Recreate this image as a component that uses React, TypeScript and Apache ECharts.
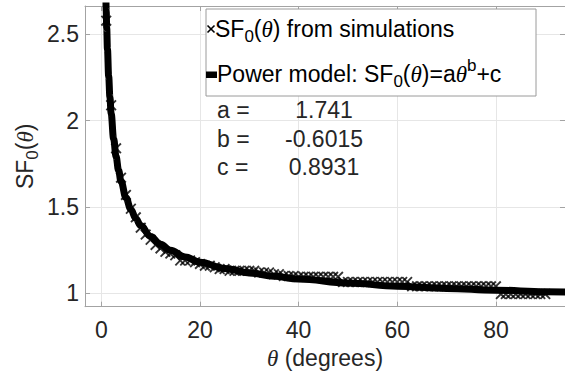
import React, { useEffect, useRef } from 'react';
import * as echarts from 'echarts';

// Simulation samples (angle in degrees, SF0 value)
const simX = [
  1, 2, 3, 4, 5, 6, 7, 8, 9, 10,
  11, 12, 13, 14, 15, 16, 17, 18, 19, 20,
  21, 22, 23, 24, 25, 26, 27, 28, 29, 30,
  31, 32, 33, 34, 35, 36, 37, 38, 39, 40,
  41, 42, 43, 44, 45, 46, 47, 48, 49, 50,
  51, 52, 53, 54, 55, 56, 57, 58, 59, 60,
  61, 62, 63, 64, 65, 66, 67, 68, 69, 70,
  71, 72, 73, 74, 75, 76, 77, 78, 79, 80,
  81, 82, 83, 84, 85, 86, 87, 88, 89, 90,
];
const simY = [
  2.58, 2.09, 1.84, 1.67, 1.57, 1.49, 1.44, 1.38, 1.34, 1.31,
  1.28, 1.26, 1.24, 1.23, 1.22, 1.19, 1.19, 1.19, 1.18, 1.17,
  1.16, 1.16, 1.15, 1.14, 1.14, 1.13, 1.13, 1.13, 1.13, 1.13,
  1.13, 1.12, 1.12, 1.12, 1.11, 1.11, 1.10, 1.10, 1.10, 1.095,
  1.095, 1.095, 1.095, 1.095, 1.095, 1.095, 1.095, 1.095, 1.065, 1.065,
  1.065, 1.065, 1.065, 1.065, 1.065, 1.065, 1.065, 1.065, 1.065, 1.065,
  1.065, 1.065, 1.04, 1.04, 1.04, 1.04, 1.04, 1.04, 1.04, 1.04,
  1.04, 1.04, 1.04, 1.04, 1.04, 1.04, 1.04, 1.04, 1.04, 1.04,
  0.995, 0.995, 0.995, 0.995, 0.995, 0.995, 0.995, 0.995, 0.995, 0.995,
];

// Power model curve samples
const fitX = [0.7, 0.8, 0.9, 1, 1.1, 1.25, 1.5, 1.75, 2, 2.5, 3, 3.5, 4, 5, 6, 7, 8, 10, 12, 14, 17, 20, 25, 30, 35, 40, 50, 60, 70, 80, 90, 95];
const fitY = [3.051, 2.884, 2.748, 2.634, 2.537, 2.415, 2.257, 2.137, 2.041, 1.896, 1.792, 1.713, 1.649, 1.554, 1.486, 1.433, 1.392, 1.329, 1.284, 1.249, 1.21, 1.18, 1.144, 1.118, 1.098, 1.082, 1.059, 1.041, 1.028, 1.018, 1.009, 1.006];

const xTicks = [0, 20, 40, 60, 80];
const yTicks = [1, 1.5, 2, 2.5];

const paramNames = ['a =', 'b =', 'c ='];
const paramValues = ['1.741', '-0.6015', '0.8931'];

const SANS = '"Liberation Sans", Arial, Helvetica, sans-serif';
const SERIF = '"Liberation Serif", "DejaVu Serif", serif';
const TXT = '#262626';
const AXIS = '#a3a3a3';
const FS = 23;

const CROSS = 'path://M0,1.2L1.2,0L5,3.8L8.8,0L10,1.2L6.2,5L10,8.8L8.8,10L5,6.2L1.2,10L0,8.8L3.8,5Z';

const rich = {
  t: { fontFamily: SANS, fontSize: FS, color: TXT },
  s: { fontFamily: SANS, fontSize: 17, color: TXT, padding: [15, 0, 0, 0] },
  p: { fontFamily: SANS, fontSize: 17, color: TXT, padding: [0, 0, 17, 0] },
  i: { fontFamily: SERIF, fontStyle: 'italic', fontSize: FS, color: TXT },
};

export default function App() {
  const ref = useRef<HTMLDivElement>(null);
  useEffect(() => {
    const chart = echarts.init(ref.current!, null, { renderer: 'svg' });
    const simData = simX.map((x, k) => [x, simY[k]]);
    const fitData = fitX.map((x, k) => [x, fitY[k]]);

    const option: any = {
      animation: false,
      backgroundColor: '#ffffff',
      textStyle: { fontFamily: SANS },
      grid: { left: 85, top: 6, width: 483.7, height: 300.7, containLabel: false },
      xAxis: [
        {
          type: 'value',
          min: -3.3,
          max: 94,
          name: '{i|θ}{t| (degrees)}',
          nameLocation: 'middle',
          nameGap: 40,
          nameTextStyle: { rich },
          axisLine: { show: true, lineStyle: { color: AXIS, width: 1 } },
          axisTick: { show: true, inside: true, length: 5, lineStyle: { color: AXIS }, customValues: xTicks },
          axisLabel: { color: TXT, fontSize: FS, fontFamily: SANS, margin: 12, customValues: xTicks },
          splitLine: { show: true, lineStyle: { color: '#e6e6e6', width: 1 } },
        },
        {
          type: 'value',
          position: 'top',
          min: -3.3,
          max: 94,
          axisLine: { show: true, onZero: false, lineStyle: { color: AXIS, width: 1 } },
          axisTick: { show: true, inside: true, length: 5, lineStyle: { color: AXIS }, customValues: xTicks },
          axisLabel: { show: false, customValues: xTicks },
          splitLine: { show: false },
        },
      ],
      yAxis: [
        {
          type: 'value',
          min: 0.922,
          max: 2.665,
          name: '{t|SF}{s|0}{t|(}{i|θ}{t|)}',
          nameLocation: 'middle',
          nameGap: 44,
          nameMoveOverlap: false,
          nameRotate: 90,
          nameTextStyle: { rich },
          axisLine: { show: true, onZero: false, lineStyle: { color: AXIS, width: 1 } },
          axisTick: { show: true, inside: true, length: 5, lineStyle: { color: AXIS }, customValues: yTicks },
          axisLabel: { color: TXT, fontSize: FS, fontFamily: SANS, margin: 6, customValues: yTicks },
          splitLine: { show: true, lineStyle: { color: '#e6e6e6', width: 1 } },
        },
        {
          type: 'value',
          position: 'right',
          min: 0.922,
          max: 2.665,
          axisLine: { show: true, onZero: false, lineStyle: { color: AXIS, width: 1 } },
          axisTick: { show: true, inside: true, length: 5, lineStyle: { color: AXIS }, customValues: yTicks },
          axisLabel: { show: false, customValues: yTicks },
          splitLine: { show: false },
        },
      ],
      series: [
        {
          name: 'SF0(θ) from simulations',
          type: 'scatter',
          data: simData,
          symbol: CROSS,
          symbolSize: 11,
          itemStyle: { color: '#000000' },
          z: 2,
        },
        {
          name: 'Power model: SF0(θ)=aθ^b+c',
          type: 'line',
          data: fitData,
          showSymbol: false,
          smooth: 0.4,
          smoothMonotone: 'x',
          lineStyle: { color: '#000000', width: 7 },
          clip: true,
          z: 3,
        },
      ],
      graphic: [
        {
          type: 'rect',
          z: 100,
          shape: { x: 206, y: 9, width: 330, height: 87 },
          style: { fill: '#ffffff', stroke: '#9a9a9a', lineWidth: 1 },
        },
        {
          type: 'line', z: 101,
          shape: { x1: 207.5, y1: 25.5, x2: 214.5, y2: 32.5 },
          style: { stroke: '#000', lineWidth: 1.6 },
        },
        {
          type: 'line', z: 101,
          shape: { x1: 207.5, y1: 32.5, x2: 214.5, y2: 25.5 },
          style: { stroke: '#000', lineWidth: 1.6 },
        },
        {
          type: 'rect', z: 101,
          shape: { x: 206, y: 71.5, width: 11, height: 6.5 },
          style: { fill: '#000' },
        },
        {
          type: 'text', z: 101,
          x: 215, y: 29,
          style: {
            text: '{t|SF}{s|0}{t|(}{i|θ}{t|) from simulations}',
            rich,
            align: 'left',
            verticalAlign: 'middle',
          },
        },
        {
          type: 'text', z: 101,
          x: 217, y: 74,
          style: {
            text: '{t|Power model: SF}{s|0}{t|(}{i|θ}{t|)=a}{i|θ}{p|b}{t|+c}',
            rich,
            align: 'left',
            verticalAlign: 'middle',
          },
        },
        ...paramNames.map((nm, k) => ({
          type: 'text', z: 101,
          x: 217, y: 110 + k * 28.5,
          style: { text: nm, font: `${FS}px ${SANS}`, fill: TXT, align: 'left', verticalAlign: 'middle' },
        })),
        ...paramValues.map((v, k) => ({
          type: 'text', z: 101,
          x: 324, y: 110 + k * 28.5,
          style: { text: v, font: `${FS}px ${SANS}`, fill: TXT, align: 'center', verticalAlign: 'middle' },
        })),
      ],
    };
    chart.setOption(option);
    return () => chart.dispose();
  }, []);
  return <div ref={ref} style={{ position: 'fixed', left: 0, top: 0, width: 565, height: 380 }} />;
}
